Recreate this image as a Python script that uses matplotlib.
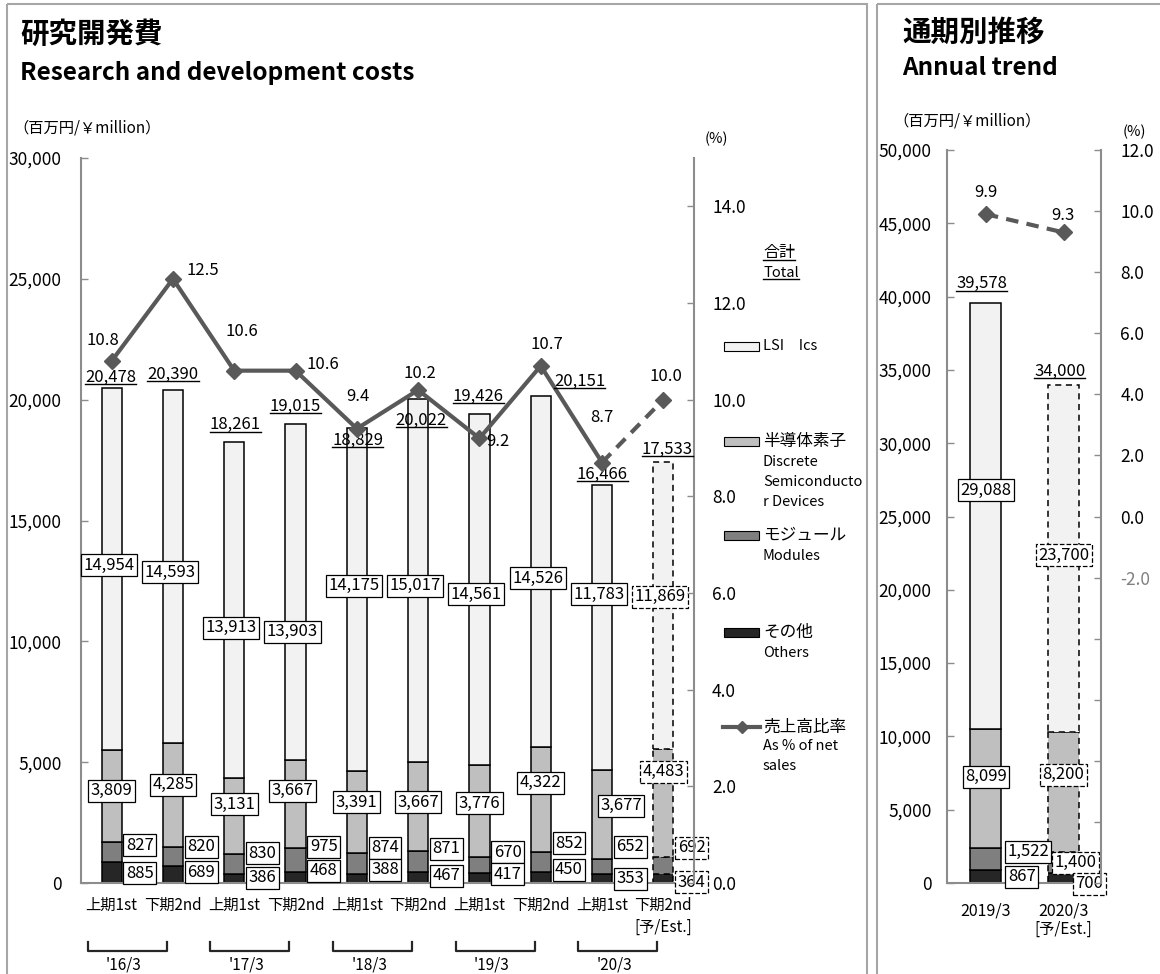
import numpy as np
import matplotlib
matplotlib.use('Agg')
import matplotlib.pyplot as plt
from matplotlib.patches import Rectangle
from matplotlib.lines import Line2D

plt.rcParams['font.family'] = ['Noto Sans CJK JP', 'DejaVu Sans']

# ---- data (half-year, 百万円) ----
periods = ['上期1st', '下期2nd'] * 5
years = ["'16/3", "'17/3", "'18/3", "'19/3", "'20/3"]
lsi = [14954, 14593, 13913, 13903, 14175, 15017, 14561, 14526, 11783, 11869]
discrete = [3809, 4285, 3131, 3667, 3391, 3667, 3776, 4322, 3677, 4483]
modules = [827, 820, 830, 975, 874, 871, 670, 852, 652, 692]
others = [885, 689, 386, 468, 388, 467, 417, 450, 353, 364]
totals = [20478, 20390, 18261, 19015, 18829, 20022, 19426, 20151, 16466, 17533]
ratio = [10.8, 12.5, 10.6, 10.6, 9.4, 10.2, 9.2, 10.7, 8.7, 10.0]

# ---- data (annual) ----
annual_years = ['2019/3', '2020/3']
annual_lsi = [29088, 23700]
annual_discrete = [8099, 8200]
annual_modules = [1522, 1400]
annual_others = [867, 700]
annual_totals = [39578, 34000]
annual_ratio = [9.9, 9.3]

# ---- label layout (nudges, in value units / pixels) ----
lsi_lab_y = [13150, 12870, 10560, 10390, 12300, 12300, 11950, 12620, 11950, 11850]
disc_lab_y = [3810, 4060, 3270, 3810, 3350, 3350, 3310, 4140, 3190, 4600]
disc_lab_dx = [0, 0, 0, -0.05, 0, 0, 0, 0, 0.31, 0]
mod_lab_y = [1570, 1490, 1240, 1490, 1450, 1410, 1280, 1650, 1490, 1450]
oth_lab_y = [410, 450, 210, 500, 540, 290, 370, 540, 170, 40]
pct_off = [(-9, -20), (30, -8), (8, -39), (27, -6), (1, -32), (2, -16), (18, 3), (6, -21), (0, -45), (3, -23)]
tot_off = [(-1, -11), (0, -16), (1, -17), (0, -17), (1, 12), (3, 21), (-1, -17), (39, -15), (0, -11), (4, -13)]

W, H = 1160, 974
C_LSI, C_DISC, C_MOD, C_OTH = '#F2F2F2', '#BFBFBF', '#7F7F7F', '#262626'
C_LINE = '#595959'
C_AX = '#8C8C8C'
DASH = (0, (4, 3))
PT = 0.72  # points per pixel at dpi 100
FS = 12

fig = plt.figure(figsize=(W / 100, H / 100), dpi=100)


def rect(x0, y0, x1, y1):
    return [x0 / W, 1 - y1 / H, (x1 - x0) / W, (y1 - y0) / H]


canvas = fig.add_axes([0, 0, 1, 1])
canvas.set_xlim(0, W)
canvas.set_ylim(H, 0)
canvas.axis('off')
canvas.set_zorder(10)

# panel frames
canvas.add_patch(Rectangle((7, 4), 860, 990, fill=False, ec='#A6A6A6', lw=1.5))
canvas.add_patch(Rectangle((877, 4), 300, 990, fill=False, ec='#A6A6A6', lw=1.5))

underlined = []


def boxlabel(ax, x, y, v, est=False, fs=FS):
    ax.text(x, y, f'{v:,}', ha='center', va='center', fontsize=fs, zorder=5,
            bbox=dict(boxstyle='square,pad=0.15', fc='white', ec='black', lw=0.9,
                      ls='--' if est else '-'))


def style_axes(ax, ax2, lpad, rpad):
    for s in ['top', 'right']:
        ax.spines[s].set_visible(False)
    for s in ['top', 'left', 'bottom']:
        ax2.spines[s].set_visible(False)
    for s in ['left', 'bottom']:
        ax.spines[s].set_color(C_AX)
        ax.spines[s].set_linewidth(1.5)
    ax2.spines['right'].set_color(C_AX)
    ax2.spines['right'].set_linewidth(1.5)
    ax.set_xticks([])
    ax.tick_params(axis='y', direction='in', length=5, width=1, color=C_AX, pad=lpad, labelsize=12.5)
    ax2.tick_params(axis='y', direction='in', length=5, width=1, color=C_AX, pad=rpad, labelsize=12.5)


# ================= left: half-year chart =================
ax = fig.add_axes(rect(81, 158, 694, 883))
x = np.arange(len(lsi))
layers = [(others, C_OTH), (modules, C_MOD), (discrete, C_DISC), (lsi, C_LSI)]
bottom = np.zeros(len(x))
for vals, col in layers:
    vals = np.array(vals)
    ax.bar(x[:-1], vals[:-1], 0.33, bottom=bottom[:-1], color=col, edgecolor='black', lw=1.1)
    ax.bar(x[-1:], vals[-1:], 0.33, bottom=bottom[-1:], color=col, edgecolor='black', lw=1.1, ls=DASH)
    bottom += vals
ax.set_xlim(-0.5, 9.5)
ax.set_ylim(0, 30000)
ax.set_yticks(range(0, 30001, 5000))
ax.set_yticklabels([f'{v:,}' for v in range(0, 30001, 5000)])

ax2 = ax.twinx()
ax2.set_ylim(0, 15)
ax2.set_yticks(np.arange(0, 15, 2))
ax2.set_yticklabels([f'{v:.1f}' for v in np.arange(0, 15, 2)])
style_axes(ax, ax2, 14, 13)

ax2.plot(x[:-1], ratio[:-1], color=C_LINE, lw=3, marker='D', ms=8, zorder=3)
ax2.plot(x[-2:], ratio[-2:], color=C_LINE, lw=3, ls=(0, (3, 2)), marker='D', ms=8, markevery=[1], zorder=3)

for i in x:
    est = i == x[-1]
    boxlabel(ax, i - 0.05, lsi_lab_y[i], lsi[i], est)
    boxlabel(ax, i + disc_lab_dx[i], disc_lab_y[i], discrete[i], est)
    boxlabel(ax, i + 0.46, mod_lab_y[i], modules[i], est)
    boxlabel(ax, i + 0.46, oth_lab_y[i], others[i], est)
    top = others[i] + modules[i] + discrete[i] + lsi[i]
    t = ax.annotate(f'{totals[i]:,}', xy=(i, top), xytext=(tot_off[i][0] * PT, -tot_off[i][1] * PT),
                    textcoords='offset points', ha='center', va='center', fontsize=FS, zorder=6)
    underlined.append(t)
    ax2.annotate(f'{ratio[i]:.1f}', xy=(i, ratio[i]), xytext=(pct_off[i][0] * PT, -pct_off[i][1] * PT),
                 textcoords='offset points', ha='center', va='center', fontsize=FS)
    ax.annotate(periods[i], xy=(i, 0), xytext=(0, -22 * PT), textcoords='offset points',
                ha='center', va='center', fontsize=11, annotation_clip=False)
ax.annotate('[予/Est.]', xy=(x[-1], 0), xytext=(0, -44 * PT), textcoords='offset points',
            ha='center', va='center', fontsize=11, annotation_clip=False)

trans = ax.get_xaxis_transform()
for k, yr in enumerate(years):
    c = 2 * k + 0.5
    x0, x1 = c - 0.89, c + 0.4
    ax.plot([x0, x0, x1, x1], [-0.0814, -0.0938, -0.0938, -0.0814], transform=trans,
            clip_on=False, color='#262626', lw=1.6)
    ax.text(c - 0.3, -0.113, yr, transform=trans, ha='center', va='center', fontsize=11)

# ================= right: annual chart =================
axr = fig.add_axes(rect(947, 150, 1101, 883))
xa = np.arange(len(annual_lsi))
alayers = [(annual_others, C_OTH), (annual_modules, C_MOD), (annual_discrete, C_DISC), (annual_lsi, C_LSI)]
abottom = np.zeros(len(xa))
for vals, col in alayers:
    vals = np.array(vals)
    axr.bar(xa[:1], vals[:1], 0.4, bottom=abottom[:1], color=col, edgecolor='black', lw=1.1)
    axr.bar(xa[1:], vals[1:], 0.4, bottom=abottom[1:], color=col, edgecolor='black', lw=1.1, ls=DASH)
    abottom += vals
axr.set_xlim(-0.5, 1.48)
axr.set_ylim(0, 50000)
axr.set_yticks(range(0, 50001, 5000))
axr.set_yticklabels([f'{v:,}' for v in range(0, 50001, 5000)])
axr2 = axr.twinx()
axr2.set_ylim(-12, 12)
rt = np.arange(-12, 13, 2)
axr2.set_yticks(rt)
axr2.set_yticklabels([f'{v:.1f}' if v >= -2 else '' for v in rt])
style_axes(axr, axr2, 11, 14)
for lab, v in zip(axr2.get_yticklabels(), rt):
    if v == -2:
        lab.set_color('#808080')
axr2.plot(xa, annual_ratio, color=C_LINE, lw=3, ls=(0, (3, 2)), marker='D', ms=8)

a_lsi_y = [26800, 22370]
a_disc_y = [7250, 7390]
a_mod = [(0.54, 2120), (0.15, 1370)]
a_oth = [(0.46, 410), (0.33, -60)]
a_tot_off = [(-4, -19), (-4, -13)]
a_pct_off = [(0, -22), (-1, -17)]
for i in xa:
    est = i == 1
    boxlabel(axr, i, a_lsi_y[i], annual_lsi[i], est)
    boxlabel(axr, i, a_disc_y[i], annual_discrete[i], est)
    boxlabel(axr, i + a_mod[i][0], a_mod[i][1], annual_modules[i], est)
    boxlabel(axr, i + a_oth[i][0], a_oth[i][1], annual_others[i], est)
    t = axr.annotate(f'{annual_totals[i]:,}', xy=(i, abottom[i]),
                     xytext=(a_tot_off[i][0] * PT, -a_tot_off[i][1] * PT), textcoords='offset points',
                     ha='center', va='center', fontsize=FS)
    underlined.append(t)
    axr2.annotate(f'{annual_ratio[i]:.1f}', xy=(i, annual_ratio[i]),
                  xytext=(a_pct_off[i][0] * PT, -a_pct_off[i][1] * PT), textcoords='offset points',
                  ha='center', va='center', fontsize=FS)
    axr.annotate(annual_years[i], xy=(i, 0), xytext=(0, -28 * PT), textcoords='offset points',
                 ha='center', va='center', fontsize=11.5, annotation_clip=False)
axr.annotate('[予/Est.]', xy=(1, 0), xytext=(0, -46 * PT), textcoords='offset points',
             ha='center', va='center', fontsize=11, annotation_clip=False)

# ================= titles / units =================
canvas.text(20, 35, '研究開発費', fontsize=20.5, weight='bold', va='center')
canvas.text(20, 73, 'Research and development costs', fontsize=17.5, weight='bold', va='center')
canvas.text(13, 128, '（百万円/￥million）', fontsize=11, va='center')
canvas.text(716, 139, '(%)', fontsize=10.5, va='center', ha='center')
canvas.text(902, 33, '通期別推移', fontsize=20.5, weight='bold', va='center')
canvas.text(902, 68, 'Annual trend', fontsize=17.5, weight='bold', va='center')
canvas.text(893, 121, '（百万円/￥million）', fontsize=11, va='center')
canvas.text(1134, 132, '(%)', fontsize=10.5, va='center', ha='center')

# ================= legend =================
LX = 763
underlined.append(canvas.text(LX, 253, '合計', fontsize=11.5, va='center'))
underlined.append(canvas.text(LX, 273, 'Total', fontsize=10.5, va='center'))
for yc, col, jp, en in [(346, C_LSI, 'LSI　Ics', []),
                        (441, C_DISC, '半導体素子', ['Discrete', 'Semiconducto', 'r Devices']),
                        (535, C_MOD, 'モジュール', ['Modules']),
                        (632, C_OTH, 'その他', ['Others'])]:
    canvas.add_patch(Rectangle((724, yc - 4.5), 35, 9, fc=col, ec='black', lw=0.8))
    canvas.text(LX, yc, jp, fontsize=12 if jp != 'LSI　Ics' else 10.5, va='center')
    for j, e in enumerate(en):
        canvas.text(LX, yc + 21 + 20 * j, e, fontsize=10.5, va='center')
canvas.add_line(Line2D([723, 760], [727, 727], color=C_LINE, lw=3))
canvas.add_line(Line2D([741.5], [727], color=C_LINE, marker='D', ms=6))
canvas.text(LX, 727, '売上高比率', fontsize=12, va='center')
canvas.text(LX, 746, 'As % of net', fontsize=10.5, va='center')
canvas.text(LX, 766, 'sales', fontsize=10.5, va='center')

# underline totals
fig.canvas.draw()
rend = fig.canvas.get_renderer()
for t in underlined:
    bb = t.get_window_extent(rend)
    yline = H - (bb.y0 + 0.1 * bb.height)
    canvas.add_line(Line2D([bb.x0, bb.x1], [yline, yline], color='black', lw=1))

fig.savefig('out.png', dpi=100)
